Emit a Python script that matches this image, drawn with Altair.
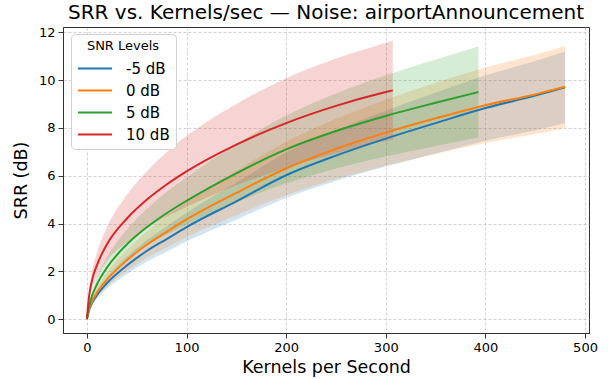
import altair as alt
import pandas as pd

snr_levels = ["-5 dB", "0 dB", "5 dB", "10 dB"]
colors = ["#1f77b4", "#ff7f0e", "#2ca02c", "#d62728"]

x_m5 = [0, 2, 5, 10, 20, 40, 60, 80, 100, 150, 200, 250, 300, 350, 400, 450, 480]
mean_m5 = [0, 0.35, 0.66, 1.0, 1.5, 2.24, 2.85, 3.35, 3.85, 4.93, 6.02, 6.84, 7.55, 8.2, 8.83, 9.35, 9.7]
std_m5 = [0, 0.06, 0.1, 0.16, 0.24, 0.36, 0.45, 0.53, 0.6, 0.77, 0.95, 1.06, 1.17, 1.27, 1.37, 1.45, 1.5]

x_0 = [0, 2, 5, 10, 20, 40, 60, 80, 100, 150, 200, 250, 300, 350, 400, 450, 480]
mean_0 = [0, 0.4, 0.73, 1.1, 1.65, 2.46, 3.11, 3.65, 4.17, 5.28, 6.3, 7.12, 7.8, 8.4, 8.95, 9.4, 9.72]
std_0 = [0, 0.07, 0.13, 0.19, 0.29, 0.44, 0.55, 0.65, 0.74, 0.93, 1.12, 1.26, 1.38, 1.49, 1.58, 1.66, 1.72]

x_5 = [0, 2, 5, 10, 20, 40, 60, 80, 100, 150, 200, 250, 300, 350, 393]
mean_5 = [0, 0.5, 0.95, 1.45, 2.15, 3.12, 3.84, 4.43, 4.95, 6.1, 7.1, 7.87, 8.5, 9.05, 9.5]
std_5 = [0, 0.1, 0.19, 0.29, 0.43, 0.62, 0.77, 0.89, 0.99, 1.22, 1.42, 1.57, 1.7, 1.81, 1.9]

x_10 = [0, 2, 5, 10, 20, 40, 60, 80, 100, 150, 200, 250, 300, 307]
mean_10 = [0, 0.9, 1.6, 2.25, 3.12, 4.2, 4.99, 5.63, 6.18, 7.3, 8.2, 8.92, 9.5, 9.57]
std_10 = [0, 0.2, 0.36, 0.51, 0.7, 0.99, 1.19, 1.35, 1.48, 1.7, 1.88, 1.98, 2.05, 2.07]

x_ticks = [0, 100, 200, 300, 400, 500]
y_ticks = [0, 2, 4, 6, 8, 10, 12]

series = [
    ("-5 dB", x_m5, mean_m5, std_m5),
    ("0 dB", x_0, mean_0, std_0),
    ("5 dB", x_5, mean_5, std_5),
    ("10 dB", x_10, mean_10, std_10),
]
rows = []
for order, (name, xs, ms, ss) in enumerate(series):
    for x, m, s in zip(xs, ms, ss):
        rows.append({"snr": name, "band": name + " band", "ord": order,
                     "x": x, "mean": m, "lo": m - s, "hi": m + s})
df = pd.DataFrame(rows)

FONT = "DejaVu Sans"
x_scale = alt.Scale(domain=[-24, 504], nice=False, zero=False)
y_scale = alt.Scale(domain=[-0.58, 12.22], nice=False, zero=False)

x_axis = alt.Axis(values=x_ticks, title="Kernels per Second", format="d", titlePadding=4)
y_axis = alt.Axis(values=y_ticks, title="SRR (dB)", format="d", titlePadding=8)

base = alt.Chart(df)

bands = base.mark_area(opacity=0.2, interpolate="monotone").encode(
    x=alt.X("x:Q", scale=x_scale, axis=x_axis),
    y=alt.Y("lo:Q", scale=y_scale, axis=y_axis),
    y2="hi:Q",
    fill=alt.Fill("band:N",
                  scale=alt.Scale(domain=[s + " band" for s in snr_levels], range=colors),
                  legend=None),
    detail="band:N",
)

lines = base.mark_line(strokeWidth=2, interpolate="monotone").encode(
    x=alt.X("x:Q", scale=x_scale, axis=x_axis),
    y=alt.Y("mean:Q", scale=y_scale, axis=y_axis),
    stroke=alt.Stroke(
        "snr:N",
        scale=alt.Scale(domain=snr_levels, range=colors),
        legend=alt.Legend(
            title="SNR Levels",
            orient="none",
            legendX=8,
            legendY=7,
            fillColor="white",
            strokeColor="#d0d0d0",
            cornerRadius=4,
            padding=6,
            symbolType="M-1,0H3",
            symbolSize=289,
            symbolStrokeWidth=2,
            labelFontSize=15,
            labelFont=FONT,
            labelColor="black",
            titleFontSize=13,
            titleFont=FONT,
            titleFontWeight="normal",
            titleColor="black",
            titleAnchor="middle",
            titleAlign="center",
            labelOffset=30,
            rowPadding=4,
            titlePadding=6,
        ),
    ),
    detail="snr:N",
)

chart = (
    alt.layer(bands, lines)
    .properties(
        width=526,
        height=306,
        title=alt.TitleParams(
            text="SRR vs. Kernels/sec \u2014 Noise: airportAnnouncement",
            fontSize=20,
            font=FONT,
            fontWeight="normal",
            color="black",
            anchor="middle",
            offset=3,
        ),
        autosize=alt.AutoSizeParams(type="none"),
        padding={"left": 63, "top": 27, "right": 22, "bottom": 46},
    )
    .configure_view(stroke="#333333", strokeWidth=1)
    .configure_axis(
        grid=True,
        gridDash=[3, 2],
        gridColor="#b0b0b0",
        gridOpacity=0.7,
        gridWidth=0.8,
        domainColor="#333333",
        tickColor="#333333",
        tickSize=5,
        labelFontSize=13,
        labelFont=FONT,
        labelColor="black",
        titleFontSize=17.5,
        titleFont=FONT,
        titleFontWeight="normal",
        titleColor="black",
        labelPadding=3,
    )
)

chart.save("out.html", embed_options={"renderer": "svg", "actions": False})
